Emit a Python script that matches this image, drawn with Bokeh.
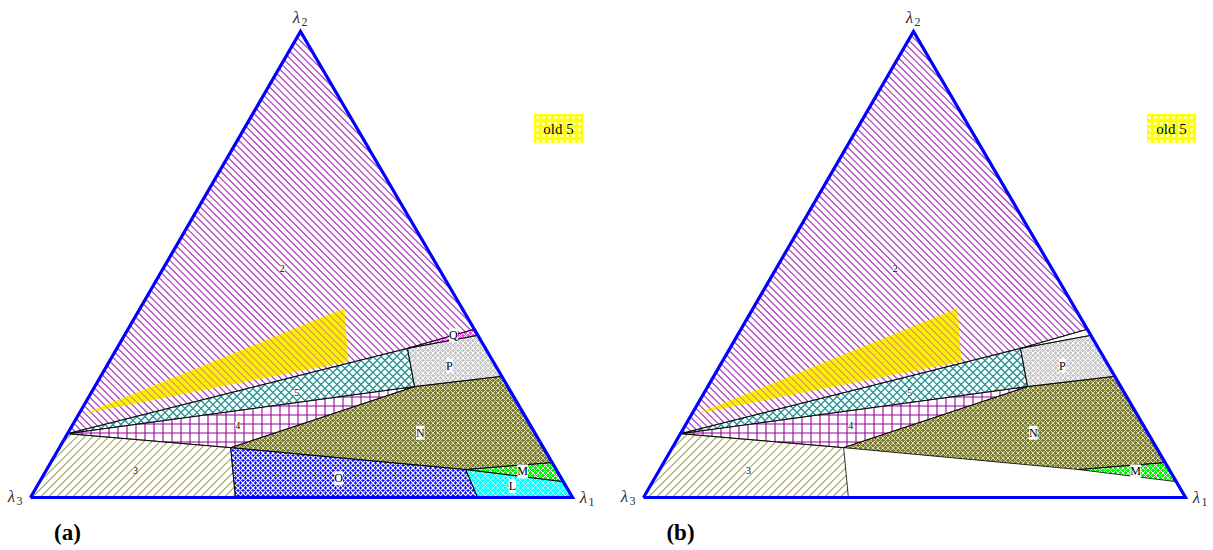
import math
from bokeh.plotting import figure
from bokeh.models import Range1d, ColumnDataSource, LabelSet, Label
from bokeh.core.properties import value
from bokeh.embed import file_html
from bokeh.resources import INLINE

# ---------------- data: ternary coordinates (lambda1, lambda2) ----------------
pt_names = ["V1", "V2", "V3", "J", "K", "Ptl", "Qr", "Ptr", "Pbr", "Pbl",
            "Nr", "MN", "Mr", "Lb", "Ob", "Y1", "Y2", "Y3"]
pt_l1 = [1.0, 0.0, 0.0, 0.0, 0.316, 0.536, 0.639, 0.652, 0.740, 0.590,
         0.925, 0.773, 0.966, 0.825, 0.378, 0.010, 0.377, 0.441]
pt_l2 = [0.0, 1.0, 0.0, 0.137, 0.107, 0.320, 0.361, 0.348, 0.260, 0.238,
         0.075, 0.060, 0.034, 0.0, 0.0, 0.180, 0.406, 0.292]

region_names = ["2", "old5", "3", "5", "4", "N", "P", "Q", "M", "L", "O"]
region_vertices = [
    ["V2", "J", "Ptl", "Qr"],
    ["Y1", "Y2", "Y3"],
    ["V3", "J", "K", "Ob"],
    ["J", "Ptl", "Pbl"],
    ["J", "Pbl", "K"],
    ["K", "Pbl", "Pbr", "Nr", "MN"],
    ["Ptl", "Ptr", "Pbr", "Pbl"],
    ["Ptl", "Qr", "Ptr"],
    ["MN", "Nr", "Mr"],
    ["MN", "Mr", "V1", "Lb"],
    ["K", "MN", "Lb", "Ob"],
]
regions_a = ["2", "old5", "3", "5", "4", "N", "P", "Q", "M", "L", "O"]
regions_b = ["2", "old5", "3", "5", "4", "N", "P", "Qw", "M"]

label_text = ["2", "Q", "P", "5", "4", "N", "3", "O", "M", "L"]
label_l1 = [0.220, 0.607, 0.632, 0.379, 0.305, 0.650, 0.165, 0.548, 0.880, 0.877]
label_l2 = [0.491, 0.348, 0.283, 0.225, 0.155, 0.139, 0.058, 0.041, 0.056, 0.024]
labels_b = ["2", "P", "5", "4", "N", "3", "M"]

vertex_label_sub = ["1", "2", "3"]
panel_tags = ["(a)", "(b)"]
legend_text = "old 5"

# ---------------- styles ----------------
FONT = "Liberation Serif"
SERIF = value(FONT)
panels = {
    "a": ((572, 497), (300, 31), (30, 497)),
    "b": ((1185, 497), (913, 31), (643, 497)),
}
PURPLE = "#b048c0"

# fill + built-in fine hatch (checker-like)
fills = {
    "2": dict(fill_color="white"),
    "old5": dict(fill_color="#fff000"),
    "3": dict(fill_color="white"),
    "5": dict(fill_color="white"),
    "4": dict(fill_color="white"),
    "N": dict(fill_color="#7c7c30", hatch_pattern="x", hatch_color="#dcdcb8", hatch_scale=5, hatch_weight=1),
    "P": dict(fill_color="#c8c8c8", hatch_pattern="x", hatch_color="#ffffff", hatch_scale=5, hatch_weight=1),
    "Q": dict(fill_color="#ff40ff", hatch_pattern="x", hatch_color="#ffffff", hatch_scale=5, hatch_weight=1),
    "Qw": dict(fill_color="white"),
    "M": dict(fill_color="#00f000", hatch_pattern="x", hatch_color="#ffffff", hatch_scale=5, hatch_weight=1),
    "L": dict(fill_color="#00ffff", hatch_pattern="x", hatch_color="#d8ffff", hatch_scale=5, hatch_weight=0.8),
    "O": dict(fill_color="#0a0aff", hatch_pattern="x", hatch_color="#ffffff", hatch_scale=5, hatch_weight=1.2),
}
# 45-degree / grid line hatching: (family, spacing, color, width)
line_hatch = {
    "2": [("bs", 7, PURPLE, 1.3)],
    "old5": [("bs", 7, "#b050a8", 0.9)],
    "3": [("fs", 8, "#a8a860", 1.1)],
    "5": [("bs", 8, "#1f9494", 1.3), ("fs", 8, "#1f9494", 1.3)],
    "4": [("h", 9, "#990099", 1.1), ("v", 9, "#990099", 1.1)],
}
NORMALS = {"bs": (1.0, -1.0), "fs": (1.0, 1.0), "h": (0.0, 1.0), "v": (1.0, 0.0)}

pts = {n: (a, b) for n, a, b in zip(pt_names, pt_l1, pt_l2)}


def tern(l1, l2, V):
    (x1, y1), (x2, y2), (x3, y3) = V
    l3 = 1.0 - l1 - l2
    return (l1 * x1 + l2 * x2 + l3 * x3, l1 * y1 + l2 * y2 + l3 * y3)


def clip_lines(poly, family, step):
    """Segments of the parallel family n.p = c (c on a fixed grid) inside a convex polygon."""
    nx, ny = NORMALS[family]
    vals = [nx * x + ny * y for x, y in poly]
    c = math.floor(min(vals) / step) * step + 0.5
    xs, ys = [], []
    n = len(poly)
    while c < max(vals):
        hits = []
        for i in range(n):
            ax, ay = poly[i]
            bx, by = poly[(i + 1) % n]
            fa = nx * ax + ny * ay - c
            fb = nx * bx + ny * by - c
            if (fa < 0) != (fb < 0):
                t = fa / (fa - fb)
                hits.append((ax + (bx - ax) * t, ay + (by - ay) * t))
        if len(hits) >= 2:
            hits.sort()
            xs.append([hits[0][0], hits[-1][0]])
            ys.append([hits[0][1], hits[-1][1]])
        c += step
    return xs, ys


p = figure(width=1213, height=550, x_range=Range1d(0, 1213), y_range=Range1d(550, 0),
           output_backend="svg", toolbar_location=None, min_border=0)
p.axis.visible = False
p.grid.visible = False
p.outline_line_color = None
p.background_fill_color = "white"

for key, region_list, lab_list, tag in (("a", regions_a, label_text, panel_tags[0]),
                                        ("b", regions_b, labels_b, panel_tags[1])):
    V = panels[key]
    polys = {}
    for rname in region_list:
        geom = "Q" if rname == "Qw" else rname
        verts = region_vertices[region_names.index(geom)]
        xy = [tern(*pts[v], V) for v in verts]
        polys[rname] = xy
        p.patch([q[0] for q in xy], [q[1] for q in xy], line_color=None, **fills[rname])
        for family, step, col, w in line_hatch.get(rname, []):
            hx, hy = clip_lines(xy, family, step)
            p.multi_line(hx, hy, line_color=col, line_width=w)
    for rname, xy in polys.items():
        if rname == "old5":
            continue
        p.patch([q[0] for q in xy], [q[1] for q in xy], fill_color=None,
                line_color="black", line_width=0.8)

    # triangle outline
    tri = [tern(*pts[v], V) for v in ["V3", "V1", "V2", "V3"]]
    p.line([q[0] for q in tri], [q[1] for q in tri], line_color="#0000ff", line_width=3.2,
           line_join="miter")

    # region labels
    sel = [i for i, t in enumerate(label_text) if t in lab_list]
    lx, ly, lt, ls = [], [], [], []
    for i in sel:
        x, y = tern(label_l1[i], label_l2[i], V)
        lx.append(x)
        ly.append(y)
        lt.append(label_text[i])
        ls.append("10px" if label_text[i].isdigit() else "12px")
    src = ColumnDataSource(dict(x=lx, y=ly, text=lt, size=ls))
    p.add_layout(LabelSet(x="x", y="y", text="text", source=src, text_font=SERIF,
                          text_font_size="size", text_align="center", text_baseline="middle",
                          text_color="black", background_fill_color="white",
                          background_fill_alpha=0.95))

    # vertex labels
    (x1, y1), (x2, y2), (x3, y3) = V
    for (vx, vy), sub, dx, dy in (((x1, y1), vertex_label_sub[0], 11, 0),
                                  ((x2, y2), vertex_label_sub[1], -4, -14),
                                  ((x3, y3), vertex_label_sub[2], -19, -1)):
        p.add_layout(Label(x=vx + dx, y=vy + dy, text="λ", text_font=FONT, text_font_style="italic",
                           text_font_size="17px", text_align="center", text_baseline="middle",
                           text_color="#303030"))
        p.add_layout(Label(x=vx + dx + 8, y=vy + dy + 4, text=sub, text_font=FONT,
                           text_font_size="12px", text_align="center", text_baseline="middle",
                           text_color="#303030"))

    # legend box "old 5"
    bx, by = x2 + 258, y2 + 97
    p.rect([bx], [by], width=49, height=29, fill_color="#ffff00", line_color=None,
           hatch_pattern=".", hatch_color="white", hatch_scale=6, hatch_weight=2.5)
    p.add_layout(Label(x=bx, y=by, text=legend_text, text_font=FONT, text_font_size="15px",
                       text_align="center", text_baseline="middle", text_color="black"))

    # panel tag
    p.add_layout(Label(x=x3 + 37, y=y3 + 35, text=tag, text_font=FONT, text_font_style="bold",
                       text_font_size="23px", text_align="center", text_baseline="middle",
                       text_color="black"))

open("out.html", "w").write(file_html(p, INLINE))
